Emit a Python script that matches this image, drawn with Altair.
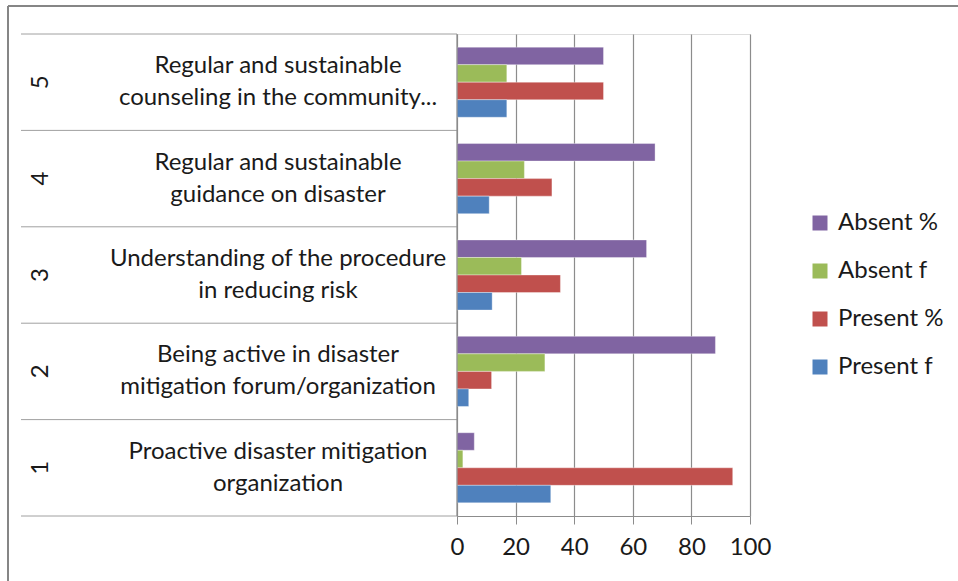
import altair as alt
import pandas as pd

# ---- data ----
categories = ["1", "2", "3", "4", "5"]
item_labels = [
    "Proactive disaster mitigation\norganization",
    "Being active in disaster\nmitigation forum/organization",
    "Understanding of the procedure\nin reducing risk",
    "Regular and sustainable\nguidance on disaster",
    "Regular and sustainable\ncounseling in the community...",
]
series_names = ["Absent %", "Absent f", "Present %", "Present f"]
series_colors = ["#8064A2", "#9BBB59", "#C0504D", "#4F81BD"]
present_f = [32, 4, 12, 11, 17]
present_pct = [94.1, 11.8, 35.3, 32.4, 50.0]
absent_f = [2, 30, 22, 23, 17]
absent_pct = [5.9, 88.2, 64.7, 67.6, 50.0]
x_ticks = [0, 20, 40, 60, 80, 100]

rows = []
for i, c in enumerate(categories):
    for name, vals in zip(series_names, [absent_pct, absent_f, present_pct, present_f]):
        rows.append({"cat": c, "series": name, "value": vals[i]})
bars_df = pd.DataFrame(rows)
labels_df = pd.DataFrame({"cat": categories, "label": item_labels})

cat_order = categories[::-1]
FONT = "Lato"
FS = 24
W, H = 293, 482

y_enc = alt.Y("cat:N", sort=cat_order, axis=None,
              scale=alt.Scale(paddingInner=0, paddingOuter=0))

bars = alt.Chart(bars_df).mark_bar(stroke="white", strokeOpacity=0.35, strokeWidth=1).encode(
    x=alt.X("value:Q",
            scale=alt.Scale(domain=[0, 100], nice=False),
            axis=alt.Axis(values=x_ticks, title=None, grid=True, gridColor="#8c8c8c",
                          gridWidth=1.2, domainColor="#8c8c8c", tickColor="#8c8c8c",
                          tickSize=8, labelFont=FONT, labelFontSize=FS,
                          labelColor="#1a1a1a", labelPadding=11, labelFlush=False)),
    y=y_enc,
    yOffset=alt.YOffset("series:N", sort=series_names,
                        scale=alt.Scale(paddingOuter=0.75, paddingInner=0)),
    color=alt.Color("series:N",
                    scale=alt.Scale(domain=series_names, range=series_colors),
                    legend=alt.Legend(title=None, orient="none", legendX=351, legendY=177,
                                      symbolType="square", symbolSize=225,
                                      symbolStrokeWidth=0, labelFont=FONT,
                                      labelFontSize=FS, labelColor="#1a1a1a",
                                      labelOffset=6, rowPadding=24)),
)

sep = alt.Chart(labels_df).mark_rule(color="#a0a0a0", strokeWidth=1).encode(
    y=alt.Y("cat:N", sort=cat_order, bandPosition=0, axis=None,
            scale=alt.Scale(paddingInner=0, paddingOuter=0)),
    x=alt.value(-436), x2=alt.value(0),
)
sep_bottom = alt.Chart(labels_df.head(1)).mark_rule(color="#a0a0a0", strokeWidth=1).encode(
    y=alt.value(H), x=alt.value(-436), x2=alt.value(0),
)
yaxis_line = alt.Chart(labels_df.head(1)).mark_rule(color="#8c8c8c", strokeWidth=1.2).encode(
    x=alt.value(0), y=alt.value(0), y2=alt.value(H),
)

nums = alt.Chart(labels_df).mark_text(font=FONT, fontSize=FS, angle=270,
                                      color="#1a1a1a", baseline="middle").encode(
    y=y_enc, x=alt.value(-416), text="cat:N",
)
texts = alt.Chart(labels_df).mark_text(font=FONT, fontSize=FS, align="center",
                                       baseline="middle", lineBreak="\n",
                                       lineHeight=32, dy=-16, color="#1a1a1a").encode(
    y=y_enc, x=alt.value(-179), text="label:N",
)

frame_top = alt.Chart(labels_df.head(1)).mark_rule(color="#868686", strokeWidth=2).encode(
    y=alt.value(-28), x=alt.value(-449), x2=alt.value(520),
)
frame_left = alt.Chart(labels_df.head(1)).mark_rule(color="#868686", strokeWidth=2).encode(
    x=alt.value(-449), y=alt.value(-28), y2=alt.value(560),
)

chart = alt.layer(bars, sep, sep_bottom, yaxis_line, nums, texts, frame_top, frame_left).properties(
    width=W, height=H,
    autosize=alt.AutoSizeParams(type="none"),
    padding={"left": 457, "top": 34, "right": 208, "bottom": 65},
).configure_view(stroke=None).configure(background="white")

chart.save("out.html", embed_options={"renderer": "svg", "actions": False})
